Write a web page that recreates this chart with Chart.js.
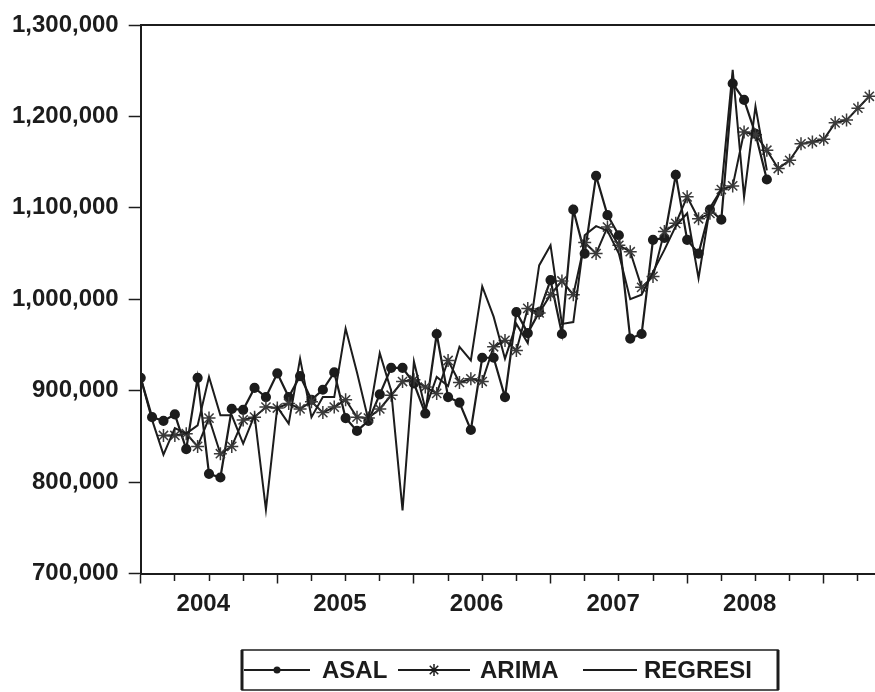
<!DOCTYPE html>
<html>
<head>
<meta charset="utf-8">
<title>ASAL / ARIMA / REGRESI</title>
<script src="https://cdn.jsdelivr.net/npm/chart.js@4.4.1/dist/chart.umd.min.js"></script>
<style>
  html, body { margin: 0; padding: 0; background: #fff; }
  #wrap { width: 875px; height: 692px; }
</style>
</head>
<body>
<div id="wrap"><canvas id="myChart" width="875" height="692"></canvas></div>
<script>
// month index 0 = 2004M01 (monthly series)
const yearLabels = ['2004', '2005', '2006', '2007', '2008'];
const yTickValues = [700000, 800000, 900000, 1000000, 1100000, 1200000, 1300000];

// actual values (ASAL), from month 0
const asal = [
  914000, 871000, 867000, 874000, 836000, 914000, 809000, 805000, 880000, 879000, 903000, 893000,
  919000, 893000, 916000, 890000, 901000, 920000, 870000, 856000, 867000, 896000, 925000, 925000,
  908000, 875000, 962000, 893000, 887000, 857000, 936000, 936000, 893000, 986000, 963000, 986000,
  1021000, 962000, 1098000, 1050000, 1135000, 1092000, 1070000, 957000, 962000, 1065000, 1067000, 1136000,
  1065000, 1050000, 1098000, 1087000, 1236000, 1218000, 1181000, 1131000
];

// ARIMA fit + forecast, from month 0 (first two months missing)
const arima = [
  null, null, 851000, 851000, 853000, 839000, 870000, 831000, 839000, 868000, 871000, 882000,
  881000, 886000, 880000, 888000, 876000, 882000, 890000, 871000, 870000, 880000, 895000, 910000,
  912000, 904000, 897000, 933000, 909000, 913000, 910000, 948000, 955000, 944000, 990000, 985000,
  1005000, 1020000, 1005000, 1062000, 1050000, 1079000, 1059000, 1052000, 1013000, 1025000, 1074000, 1083000,
  1112000, 1088000, 1094000, 1120000, 1124000, 1183000, 1180000, 1163000, 1143000, 1152000, 1170000, 1172000,
  1175000, 1193000, 1196000, 1209000, 1222000
];

// regression fit, from month 0
const regresi = [
  914000, 868000, 830000, 859000, 853000, 862000, 915000, 873000, 873000, 842000, 873000, 770000,
  882000, 864000, 935000, 871000, 893000, 893000, 968000, 920000, 868000, 941000, 900000, 769000,
  932000, 880000, 915000, 905000, 948000, 933000, 1014000, 981000, 935000, 973000, 952000, 1037000,
  1059000, 973000, 975000, 1070000, 1080000, 1075000, 1050000, 1000000, 1005000, 1030000, 1054000, 1080000,
  1094000, 1023000, 1100000, 1120000, 1251000, 1112000, 1211000, 1141000
];

const toPoints = arr => arr.map((v, i) => ({ x: i, y: v })).filter(p => p.y !== null);

const ink = '#1c1c1c';
const font = { family: "'Liberation Sans', Arial, sans-serif", size: 24, weight: 'bold' };

// boxed legend under the chart, like the EViews graph
const legendItems = [
  { text: 'ASAL', marker: 'dot', x1: 244, x2: 310, tx: 322 },
  { text: 'ARIMA', marker: 'star', x1: 398, x2: 470, tx: 480 },
  { text: 'REGRESI', marker: 'none', x1: 583, x2: 637, tx: 644 }
];

function drawStar(ctx, x, y, r) {
  ctx.beginPath();
  for (let k = 0; k < 4; k++) {
    const a = k * Math.PI / 4;
    ctx.moveTo(x - r * Math.cos(a), y - r * Math.sin(a));
    ctx.lineTo(x + r * Math.cos(a), y + r * Math.sin(a));
  }
  ctx.stroke();
}

const boxLegend = {
  id: 'boxLegend',
  afterDraw(chart) {
    const ctx = chart.ctx;
    ctx.save();
    ctx.strokeStyle = ink;
    ctx.fillStyle = ink;
    // frame
    ctx.lineWidth = 1.5;
    ctx.strokeRect(242, 650, 536, 40);
    ctx.lineWidth = 3;
    ctx.beginPath();
    ctx.moveTo(242, 650); ctx.lineTo(242, 690);
    ctx.moveTo(778, 650); ctx.lineTo(778, 690);
    ctx.stroke();
    const cy = 670;
    ctx.font = `${font.weight} ${font.size}px ${font.family}`;
    ctx.textBaseline = 'middle';
    legendItems.forEach(it => {
      ctx.lineWidth = 2;
      ctx.beginPath();
      ctx.moveTo(it.x1, cy); ctx.lineTo(it.x2, cy);
      ctx.stroke();
      const mx = (it.x1 + it.x2) / 2;
      if (it.marker === 'dot') {
        ctx.beginPath(); ctx.arc(mx, cy, 3.5, 0, Math.PI * 2); ctx.fill();
      } else if (it.marker === 'star') {
        ctx.lineWidth = 1.5; drawStar(ctx, mx, cy, 6);
      }
      ctx.fillText(it.text, it.tx, cy + 1);
    });
    ctx.restore();
  }
};

// top frame line of the plot
const topFrame = {
  id: 'topFrame',
  beforeDatasetsDraw(chart) {
    const { ctx, chartArea } = chart;
    ctx.save();
    ctx.strokeStyle = ink;
    ctx.lineWidth = 2;
    ctx.beginPath();
    ctx.moveTo(chartArea.left, chartArea.top);
    ctx.lineTo(chartArea.right, chartArea.top);
    ctx.stroke();
    ctx.restore();
  }
};

const ctx = document.getElementById('myChart').getContext('2d');
const myChart = new Chart(ctx, {
  type: 'line',
  data: {
    datasets: [
      {
        label: 'REGRESI',
        data: toPoints(regresi),
        borderColor: ink,
        borderWidth: 2,
        pointRadius: 0,
        tension: 0
      },
      {
        label: 'ARIMA',
        data: toPoints(arima),
        borderColor: ink,
        borderWidth: 2,
        pointStyle: 'star',
        pointRadius: 6.5,
        pointBorderWidth: 1.5,
        pointBorderColor: '#3a3a3a',
        tension: 0
      },
      {
        label: 'ASAL',
        data: toPoints(asal),
        borderColor: ink,
        borderWidth: 2.2,
        pointStyle: 'circle',
        pointRadius: 4,
        pointBackgroundColor: ink,
        pointBorderColor: ink,
        tension: 0
      }
    ]
  },
  options: {
    responsive: false,
    animation: false,
    layout: { autoPadding: false, padding: { top: 25, left: 0, right: 0, bottom: 0 } },
    plugins: { legend: { display: false }, tooltip: { enabled: false } },
    scales: {
      x: {
        type: 'linear',
        min: 0,
        max: 64.5,
        afterBuildTicks: s => {
          const t = [];
          for (let m = 0; m <= 63; m += 3) t.push({ value: m });
          s.ticks = t;
        },
        afterFit: s => { s.height = 118.5; },
        grid: {
          drawOnChartArea: false,
          drawTicks: true,
          tickLength: 10,
          tickWidth: 1.5,
          tickColor: ink,
          tickBorderDash: c => (c.tick && c.tick.value % 12 === 0) ? [] : [6, 10]
        },
        border: { display: true, color: ink, width: 2 },
        ticks: {
          autoSkip: false,
          maxRotation: 0,
          padding: 6,
          labelOffset: -5.7,
          color: ink,
          font: font,
          callback: v => (v % 12 === 6) ? yearLabels[(v - 6) / 12] : ''
        }
      },
      y: {
        min: 700000,
        max: 1300000,
        afterBuildTicks: s => { s.ticks = yTickValues.map(v => ({ value: v })); },
        afterFit: s => { s.width = 140.7; },
        grid: { drawOnChartArea: false, tickLength: 12, tickWidth: 1.5, tickColor: ink },
        border: { display: true, color: ink, width: 2 },
        ticks: {
          padding: 10,
          color: ink,
          font: font,
          callback: v => v.toLocaleString('en-US')
        }
      }
    }
  },
  plugins: [topFrame, boxLegend]
});
</script>
</body>
</html>
